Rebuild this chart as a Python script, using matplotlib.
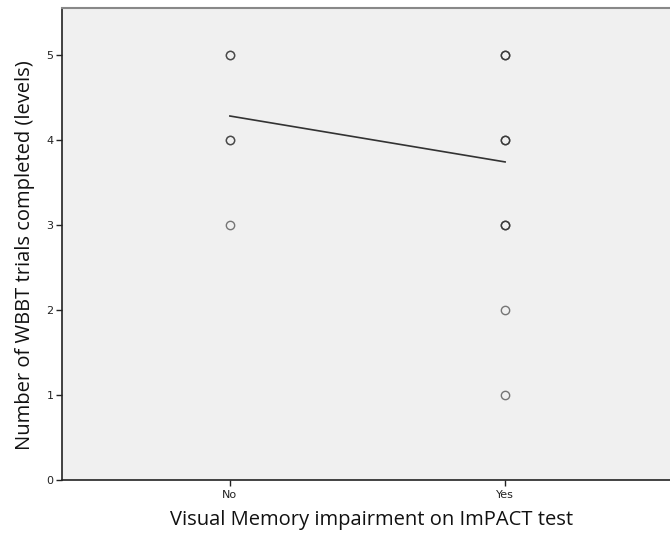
import numpy as np
import matplotlib.pyplot as plt

# observed scores per group, with how many cases sit on each point
groups = ["No", "Yes"]
no_levels = [5, 4, 3]
no_counts = [2, 2, 1]
yes_levels = [5, 4, 3, 2, 1]
yes_counts = [3, 3, 3, 1, 1]

# fitted linear trend (value at No, value at Yes)
fit_x = [0, 1]
fit_y = [4.28, 3.74]

fig = plt.figure(figsize=(6.70, 5.34), dpi=100)
ax = fig.add_axes([62 / 670, (534 - 480) / 534, 611 / 670, 472 / 534])
ax.set_facecolor("#f0f0f0")

for gx, levels, counts in [(0, no_levels, no_counts), (1, yes_levels, yes_counts)]:
    for lev, n in zip(levels, counts):
        for _ in range(n):
            ax.plot(gx, lev, "o", ms=6, mfc="none", mec="#333333",
                    mew=1.0, alpha=0.65, zorder=3)

ax.plot(fit_x, fit_y, "-", color="#333333", lw=1.2, zorder=2)

ax.set_xlim(-0.61, 1.61)
ax.set_ylim(0, 5.55)
ax.set_xticks([0, 1])
ax.set_xticklabels(groups)
ax.set_yticks(range(6))

for lab in ax.get_xticklabels() + ax.get_yticklabels():
    lab.set_fontfamily("Liberation Sans Narrow")
    lab.set_fontsize(8)
    lab.set_color("#222222")
ax.tick_params(axis="both", length=4.5, width=1, color="#222222")
ax.tick_params(axis="x", pad=3)
ax.tick_params(axis="y", pad=1.5)

for s in ["left", "bottom"]:
    ax.spines[s].set_color("#222222")
    ax.spines[s].set_linewidth(1.2)
ax.spines["top"].set_color("#888888")
ax.spines["top"].set_linewidth(1.5)
ax.spines["right"].set_visible(False)

ax.set_xlabel("Visual Memory impairment on ImPACT test", fontfamily="Open Sans",
              fontsize=14.5, color="#111111", va="center", ha="center")
ax.set_ylabel("Number of WBBT trials completed (levels)", fontfamily="Open Sans",
              fontsize=14.5, color="#111111", va="center", ha="center")
ax.xaxis.set_label_coords((372 - 62) / 611, (480 - 520) / 472)
ax.yaxis.set_label_coords((25 - 62) / 611, (480 - 255) / 472)

fig.savefig("out.png", dpi=100)
